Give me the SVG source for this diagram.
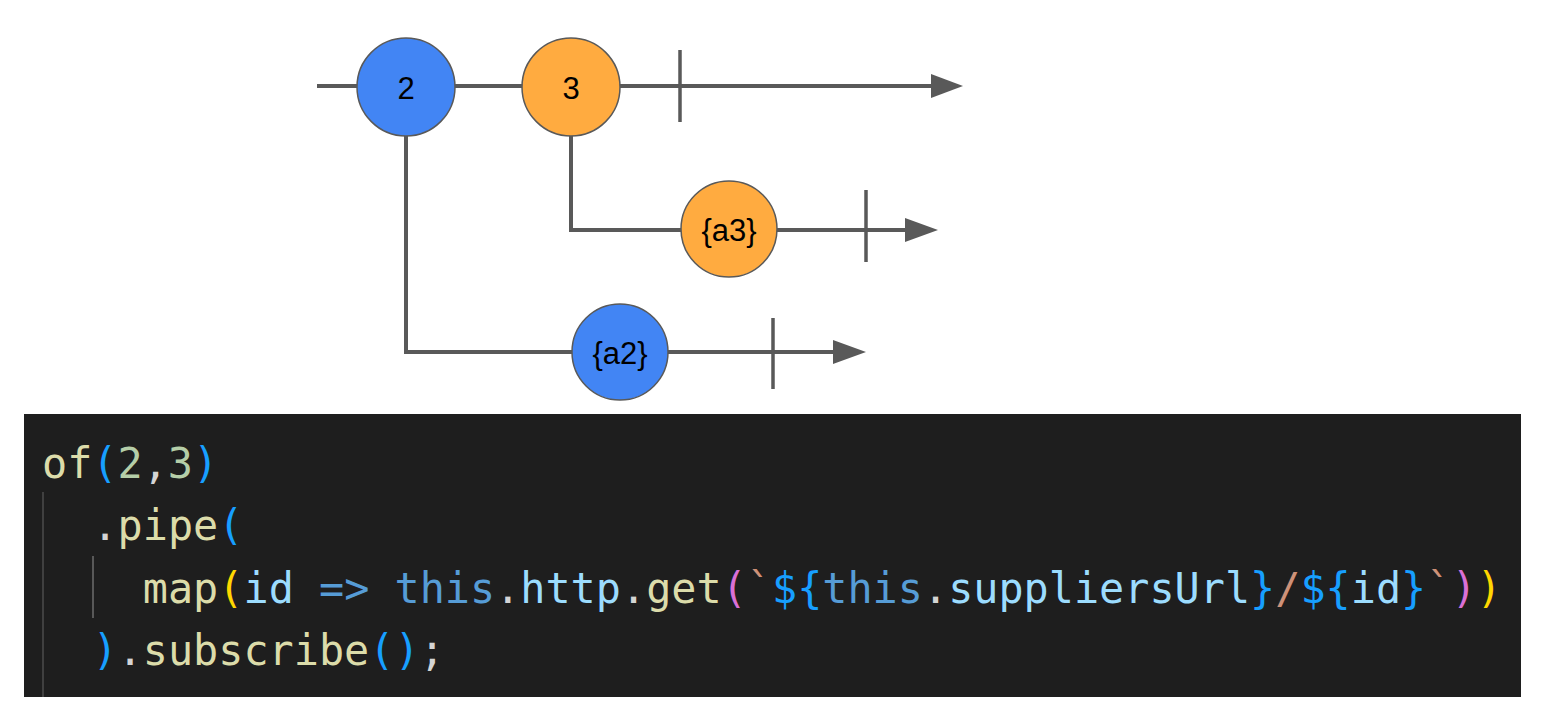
<svg xmlns="http://www.w3.org/2000/svg" width="1545" height="714" viewBox="0 0 1545 714">
<defs>
<style>
.ln{stroke:#595959;stroke-width:4;fill:none}
.tk{stroke:#595959;stroke-width:3.5}
.blue{fill:#4285f4;stroke:#595959;stroke-width:1.5}
.orange{fill:#ffab40;stroke:#595959;stroke-width:1.5}
.lbl{font-family:"Liberation Sans",Arial,sans-serif;font-size:31px;fill:#000;text-anchor:middle;dominant-baseline:central}
.code{font-family:"DejaVu Sans Mono","Liberation Mono",monospace;font-size:41.8px;fill:#d4d4d4}
.fn{fill:#dcdcaa}.b1{fill:#179fff}.num{fill:#b5cea8}.var{fill:#9cdcfe}.kw{fill:#569cd6}.str{fill:#ce9178}.gold{fill:#ffd700}.orc{fill:#da70d6}
</style>
</defs>
<rect width="1545" height="714" fill="#ffffff"/>
<g id="connectors">
<line class="ln" x1="317" y1="86" x2="935" y2="86"/>
<path d="M931,74 L963,86 L931,98 Z" fill="#595959"/>
<line class="tk" x1="680" y1="50" x2="680" y2="122"/>
<polyline class="ln" points="571,135 571,230 910,230"/>
<path d="M905,218 L938,230 L905,242 Z" fill="#595959"/>
<line class="tk" x1="866" y1="190" x2="866" y2="262"/>
<polyline class="ln" points="406,135 406,352 838,352"/>
<path d="M833,340 L866,352 L833,364 Z" fill="#595959"/>
<line class="tk" x1="773" y1="318" x2="773" y2="389"/>
</g>
<g id="node-2"><circle class="blue" cx="406" cy="87" r="49"/><text class="lbl" x="406" y="88">2</text></g>
<g id="node-3"><circle class="orange" cx="571" cy="87" r="49"/><text class="lbl" x="571" y="88">3</text></g>
<g id="node-a3"><circle class="orange" cx="729" cy="229" r="48"/><text class="lbl" x="729" y="230">{a3}</text></g>
<g id="node-a2"><circle class="blue" cx="620" cy="352" r="48"/><text class="lbl" x="620" y="353">{a2}</text></g>
<g id="code">
<rect x="24" y="414" width="1497" height="283" fill="#1e1e1e"/>
<line x1="43" y1="492" x2="43" y2="697" stroke="#404040" stroke-width="2"/>
<line x1="93" y1="556" x2="93" y2="618" stroke="#585858" stroke-width="2"/>
<text class="code" x="42" y="478" xml:space="preserve"><tspan class="fn">of</tspan><tspan class="b1">(</tspan><tspan class="num">2</tspan>,<tspan class="num">3</tspan><tspan class="b1">)</tspan></text>
<text class="code" x="92.4" y="540" xml:space="preserve">.<tspan class="fn">pipe</tspan><tspan class="b1">(</tspan></text>
<text class="code" x="142.8" y="603" xml:space="preserve"><tspan class="fn">map</tspan><tspan class="gold">(</tspan><tspan class="var">id</tspan> <tspan class="kw">=&gt;</tspan> <tspan class="kw">this</tspan>.<tspan class="var">http</tspan>.<tspan class="fn">get</tspan><tspan class="orc">(</tspan><tspan class="str">`</tspan><tspan class="b1">${</tspan><tspan class="kw">this</tspan>.<tspan class="var">suppliersUrl</tspan><tspan class="b1">}</tspan><tspan class="str">/</tspan><tspan class="b1">${</tspan><tspan class="var">id</tspan><tspan class="b1">}</tspan><tspan class="str">`</tspan><tspan class="orc">)</tspan><tspan class="gold">)</tspan></text>
<text class="code" x="92.4" y="665" xml:space="preserve"><tspan class="b1">)</tspan>.<tspan class="fn">subscribe</tspan><tspan class="b1">()</tspan>;</text>
</g>
</svg>
